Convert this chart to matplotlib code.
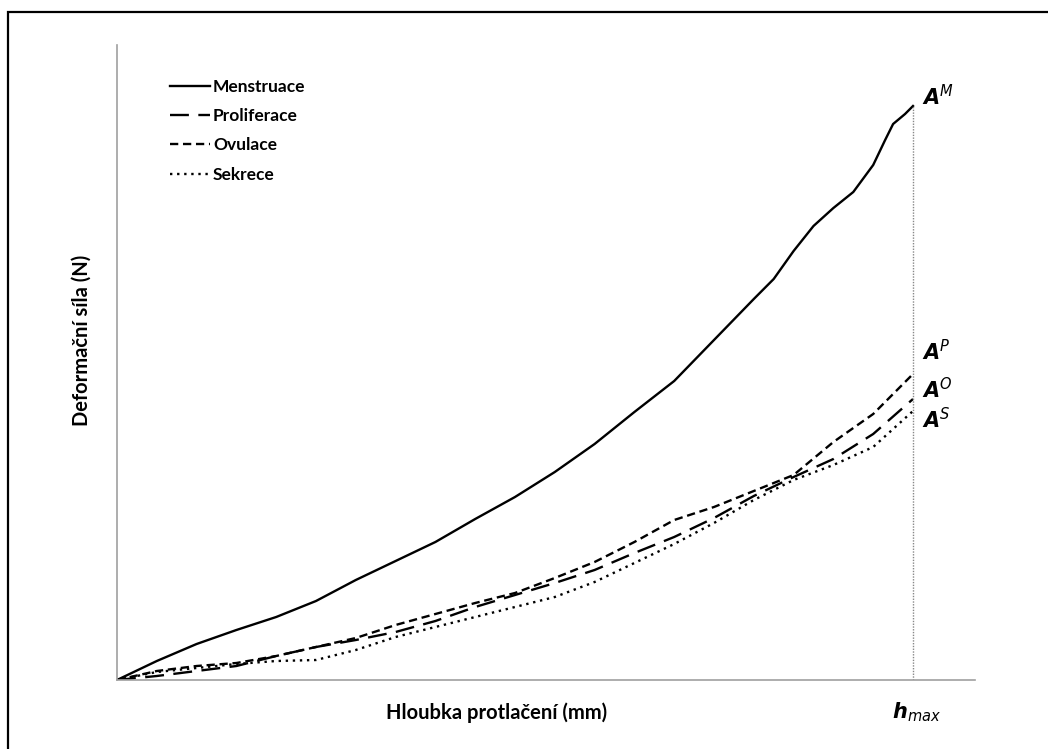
import matplotlib
matplotlib.use("Agg")
import matplotlib.pyplot as plt
from matplotlib.patches import Rectangle
from matplotlib.lines import Line2D

plt.rcParams['font.family'] = ['Lato', 'DejaVu Sans']

# normalised indentation depth (h / h_max)
depth = [0.00, 0.05, 0.10, 0.15, 0.20, 0.25, 0.30, 0.35, 0.40, 0.45, 0.50,
         0.55, 0.60, 0.65, 0.70, 0.75, 0.80, 0.85, 0.90, 0.95, 1.00]
depth_m = [0.00, 0.05, 0.10, 0.15, 0.20, 0.25, 0.30, 0.35, 0.40, 0.45, 0.50,
           0.55, 0.60, 0.65, 0.70, 0.75, 0.80, 0.825, 0.85, 0.875, 0.90,
           0.925, 0.95, 0.965, 0.975, 0.99, 1.00]

menstruace = [0, 19, 36, 50, 63, 79, 100, 119, 138, 161, 183,
              208, 236, 268, 299, 340, 381, 401, 429, 454, 472,
              488, 515, 540, 556, 566, 574]
proliferace = [0, 4, 9, 14, 24, 33, 40, 48, 59, 73, 85,
               97, 110, 127, 143, 162, 184, 203, 221, 246, 281]
ovulace = [0, 9, 14, 17, 24, 33, 42, 55, 66, 77, 87,
           102, 118, 138, 160, 173, 189, 205, 238, 266, 306]
sekrece = [0, 8, 12, 16, 19, 20, 30, 43, 53, 63, 73,
           83, 98, 117, 136, 157, 180, 200, 215, 233, 269]

labels = ["Menstruace", "Proliferace", "Ovulace", "Sekrece"]
end_labels = [r"$\mathbfit{A}^{\mathit{M}}$", r"$\mathbfit{A}^{\mathit{P}}$",
              r"$\mathbfit{A}^{\mathit{O}}$", r"$\mathbfit{A}^{\mathit{S}}$"]

W, H = 1048, 749
fig = plt.figure(figsize=(W / 100, H / 100), dpi=100)

# outer frame (clipped at right and bottom)
fig.patches.append(Rectangle((8 / W, -0.1), 1.2, 1 - 12 / H + 0.1,
                             transform=fig.transFigure, fill=False,
                             edgecolor='black', linewidth=1.6))

ax = fig.add_axes([117 / W, (H - 680) / H, (975 - 117) / W, (680 - 45) / H])
ax.set_xlim(0, (975 - 117) / 796)
ax.set_ylim(0, 635)

styles = ['-', (0, (8, 4)), (0, (3.5, 2)), (0, (1, 2))]
ax.plot(depth_m, menstruace, color='black', lw=1.7, linestyle=styles[0])
ax.plot(depth, proliferace, color='black', lw=1.7, linestyle=styles[1])
ax.plot(depth, ovulace, color='black', lw=1.7, linestyle=styles[2])
ax.plot(depth, sekrece, color='black', lw=1.7, linestyle=styles[3])

# h_max marker line
ax.plot([1.0, 1.0], [0, menstruace[-1]], color='#888888', lw=1.0, linestyle=(0, (1, 1)))

for s in ['top', 'right']:
    ax.spines[s].set_visible(False)
for s in ['left', 'bottom']:
    ax.spines[s].set_color('#a0a0a0')
    ax.spines[s].set_linewidth(1.2)
ax.set_xticks([])
ax.set_yticks([])

# legend
handles = [Line2D([], [], color='black', lw=1.7, linestyle=st) for st in styles]
leg = ax.legend(handles, labels, loc='upper left',
                bbox_to_anchor=((170 - 117) / 858, 1 - (79 - 45) / 635),
                frameon=False, handlelength=2.3, handletextpad=0.17, labelspacing=0.76,
                prop={'weight': 'bold', 'size': 12.5}, borderaxespad=0, borderpad=0)

# end labels
end_y = [97, 352, 390, 420]
for lab, yp in zip(end_labels, end_y):
    fig.text(922 / W, 1 - yp / H, lab, fontsize=15, ha='left', va='center')

fig.text(917 / W, 1 - 712 / H, r"$\mathbfit{h}_{\mathit{max}}$", fontsize=15,
         ha='center', va='center')

fig.text(497 / W, 1 - 713 / H, "Hloubka protlačení (mm)", fontsize=14.5,
         fontweight='bold', ha='center', va='center')
fig.text(82 / W, 1 - 340 / H, "Deformační síla (N)", fontsize=14.5,
         fontweight='bold', ha='center', va='center', rotation=90)

fig.savefig("out.png", dpi=100)
